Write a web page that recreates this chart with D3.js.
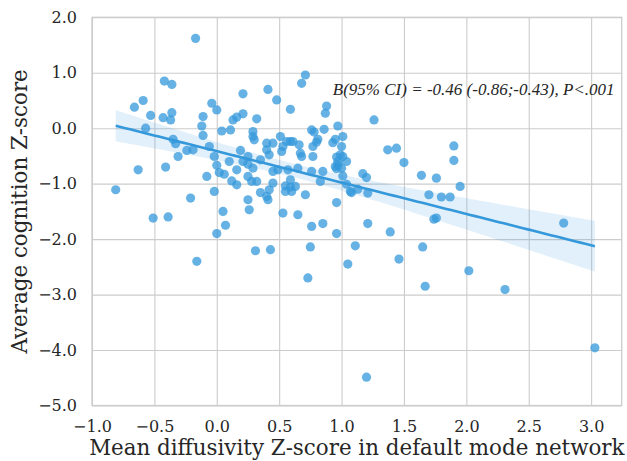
<!DOCTYPE html>
<html>
<head>
<meta charset="utf-8">
<script src="https://cdn.jsdelivr.net/npm/d3@7"></script>
<style>
  body { margin: 0; background: #fff; }
  text { font-family: "DejaVu Serif", serif; fill: #262626; }
</style>
</head>
<body>
<svg></svg>
<script>
// mean diffusivity z-score (x) and average cognition z-score (y), one entry per subject
let diffusivity = [
  -0.17, -0.42, -0.36, -0.66, -0.59, -0.53, -0.57, -0.81, -0.63, -0.43,
  -0.37, -0.36, -0.41, -0.35, -0.33, -0.31, -0.24, -0.19, -0.21, -0.51,
  -0.39, -0.11, -0.12, -0.11, -0.04, 0.00, -0.06, -0.02, -0.08, -0.02,
  0.00, 0.04, 0.02, 0.06, 0.11, 0.10, 0.05, 0.07, 0.13, 0.16,
  0.21, 0.21, 0.12, 0.16, 0.19, 0.16, 0.21, 0.25, 0.25, 0.29,
  0.29, 0.30, 0.32, 0.29, 0.25, 0.28, 0.32, 0.25, 0.26, 0.35,
  0.40, 0.41, 0.42, 0.45, 0.41, 0.48, 0.40, 0.42, 0.45, 0.45,
  0.51, 0.52, 0.53, 0.59, 0.56, 0.59, 0.61, 0.66, 0.67, 0.68,
  0.57, 0.59, 0.63, 0.55, 0.60, 0.65, 0.68, 0.71, 0.71, 0.77,
  0.76, 0.80, 0.76, 0.76,
  0.88, 0.87, 1.26, 0.86, 0.97, 1.01, 1.00, 0.93, 1.37, 1.44,
  1.50, 1.90, 1.90, 0.96, 0.99, 1.01, 0.95, 0.97, 1.04, 1.00,
  0.85, 0.83, 1.01, 1.17, 1.20, 1.04, 1.07, 1.08, 1.13, 1.21,
  1.64, 1.76, 1.95, 1.70, 1.80, 1.87, 0.96, 1.21, 1.74, 1.76,
  2.78, 0.85, 1.39,
  0.96, 0.75, 1.11, 1.65, 1.05, 1.46, 2.02, 0.73, 1.67, 2.31, 3.03, 1.20,
  0.00, -0.16, 0.31, 0.43,
  0.40, 0.53, 0.81, 0.77, 0.95, 0.97, 0.96, 0.65, 0.49, 0.35, 0.55, 0.59, 0.78
];

let cognition = [
  1.62, 0.85, 0.79, 0.38, 0.50, 0.23, 0.00, -1.11, -0.75, 0.19,
  0.15, 0.28, -0.70, -0.20, -0.28, -0.51, -0.40, -0.39, -1.26, -1.62,
  -1.60, 0.21, 0.04, -0.13, 0.45, 0.33, -0.33, -0.51, -0.87, -1.14,
  -0.67, -0.05, -0.80, -0.83, -0.03, -0.60, -1.50, -1.75, 0.15, 0.20,
  0.26, 0.62, -0.95, -1.02, -0.40, -0.75, -0.60, -0.65, -0.51, -0.06,
  -0.15, -0.21, 0.17, -0.72, -0.87, -0.96, -0.96, -1.29, -1.47, -1.16,
  -1.23, -1.29, -1.11, -0.99, 0.70, 0.51, -0.27, -0.48, -0.27, -0.78,
  -0.15, -0.42, -1.53, 0.34, -0.24, -0.24, -0.24, -0.30, -0.45, -0.51,
  -0.75, -0.93, -1.05, -1.14, -1.14, -1.56, 0.81, 0.96, -1.20, -0.51,
  -0.03, -0.25, -0.78, -1.77,
  0.40, 0.27, 0.15, -0.02, 0.04, -0.15, -0.33, -0.26, -0.39, -0.36,
  -0.62, -0.32, -0.58, -0.52, -0.48, -0.51, -0.69, -0.66, -0.60, -0.72,
  -0.78, -0.96, -0.86, -0.82, -0.89, -1.01, -1.14, -1.16, -1.10, -1.17,
  -0.85, -0.90, -1.05, -1.20, -1.24, -1.24, -1.34, -1.72, -1.64, -1.62,
  -1.71, -1.72, -1.87,
  -1.90, -2.14, -2.12, -2.14, -2.45, -2.36, -2.57, -2.70, -2.85, -2.91, -3.96, -4.49,
  -1.90, -2.40, -2.21, -2.19,
  -0.39, -0.33, -0.20, -0.33, -0.20, -0.60, -0.73, -0.72, -0.75, -0.57, -1.04, -1.06, -0.07
];

let xTicks = [-1.0, -0.5, 0.0, 0.5, 1.0, 1.5, 2.0, 2.5, 3.0];
let yTicks = [2.0, 1.0, 0.0, -1.0, -2.0, -3.0, -4.0, -5.0];
let xDomain = [-1.0, 3.245];
let yDomain = [-5.0, 2.0];
let xLabel = 'Mean diffusivity Z-score in default mode network';
let yLabel = 'Average cognition Z-score';
let annotation = 'B(95% CI) = -0.46 (-0.86;-0.43), P<.001';

let width = 627;
let height = 461;
let plotLeft = 92, plotRight = 621.7, plotTop = 17.3, plotBottom = 405.5;
let color = '#3498db';
let gridColor = '#cccccc';

let points = diffusivity.map((d, i) => ({ x: d, y: cognition[i] }));

let xScale = d3.scaleLinear().domain(xDomain).range([plotLeft, plotRight]);
let yScale = d3.scaleLinear().domain(yDomain).range([plotBottom, plotTop]);

let svg = d3.select('svg')
    .attr('width', width)
    .attr('height', height);

// grid + ticks
let xAxis = d3.axisBottom(xScale)
    .tickValues(xTicks)
    .tickFormat(d3.format('.1f'))
    .tickSize(-(plotBottom - plotTop))
    .tickSizeOuter(0)
    .tickPadding(15);

let yAxis = d3.axisLeft(yScale)
    .tickValues(yTicks)
    .tickFormat(d3.format('.1f'))
    .tickSize(-(plotRight - plotLeft))
    .tickSizeOuter(0)
    .tickPadding(15);

let gx = svg.append('g')
    .attr('transform', `translate(0, ${plotBottom})`)
    .call(xAxis);

let gy = svg.append('g')
    .attr('transform', `translate(${plotLeft}, 0)`)
    .call(yAxis);

[gx, gy].forEach(g => {
    g.select('.domain').remove();
    g.selectAll('line').attr('stroke', gridColor).attr('stroke-width', 1.1);
    g.selectAll('text')
        .style('font-family', '"DejaVu Serif", serif')
        .style('font-size', '16px')
        .attr('fill', '#262626');
});

svg.append('rect')
    .attr('x', plotLeft)
    .attr('y', plotTop)
    .attr('width', plotRight - plotLeft)
    .attr('height', plotBottom - plotTop)
    .attr('fill', 'none')
    .attr('stroke', gridColor)
    .attr('stroke-width', 1.3);

// least-squares fit with 95% confidence band
let n = points.length;
let mx = d3.mean(points, d => d.x);
let my = d3.mean(points, d => d.y);
let sxx = d3.sum(points, d => (d.x - mx) ** 2);
let sxy = d3.sum(points, d => (d.x - mx) * (d.y - my));
let slope = sxy / sxx;
let intercept = my - slope * mx;
let rss = d3.sum(points, d => (d.y - (intercept + slope * d.x)) ** 2);
let s = Math.sqrt(rss / (n - 2));
let xMin = d3.min(points, d => d.x);
let xMax = d3.max(points, d => d.x);
let fit = d3.range(0, 101).map(i => {
    let x = xMin + (xMax - xMin) * i / 100;
    let yhat = intercept + slope * x;
    let se = s * Math.sqrt(1 / n + (x - mx) ** 2 / sxx);
    return { x: x, y: yhat, lo: yhat - 1.97 * se, hi: yhat + 1.97 * se };
});

svg.append('path')
    .datum(fit)
    .attr('fill', color)
    .attr('fill-opacity', 0.15)
    .attr('d', d3.area()
        .x(d => xScale(d.x))
        .y0(d => yScale(d.lo))
        .y1(d => yScale(d.hi)));

svg.selectAll('circle')
    .data(points)
    .enter()
    .append('circle')
        .attr('cx', d => xScale(d.x))
        .attr('cy', d => yScale(d.y))
        .attr('r', 4.6)
        .attr('fill', color)
        .attr('fill-opacity', 0.75);

svg.append('path')
    .datum(fit)
    .attr('fill', 'none')
    .attr('stroke', color)
    .attr('stroke-width', 2.6)
    .attr('d', d3.line()
        .x(d => xScale(d.x))
        .y(d => yScale(d.y)));

// labels
svg.append('text')
    .attr('x', (plotLeft + plotRight) / 2)
    .attr('y', 455)
    .style('text-anchor', 'middle')
    .style('font-size', '21.4px')
    .text(xLabel);

svg.append('text')
    .attr('transform', 'rotate(-90)')
    .attr('x', -(plotTop + plotBottom) / 2)
    .attr('y', 27)
    .style('text-anchor', 'middle')
    .style('font-size', '21.4px')
    .text(yLabel);

svg.append('text')
    .attr('x', xScale(0.93))
    .attr('y', yScale(0.6))
    .style('font-family', '"Liberation Serif", "Times New Roman", serif')
    .style('font-style', 'italic')
    .style('font-size', '17px')
    .attr('fill', '#000')
    .text(annotation);
</script>
</body>
</html>
